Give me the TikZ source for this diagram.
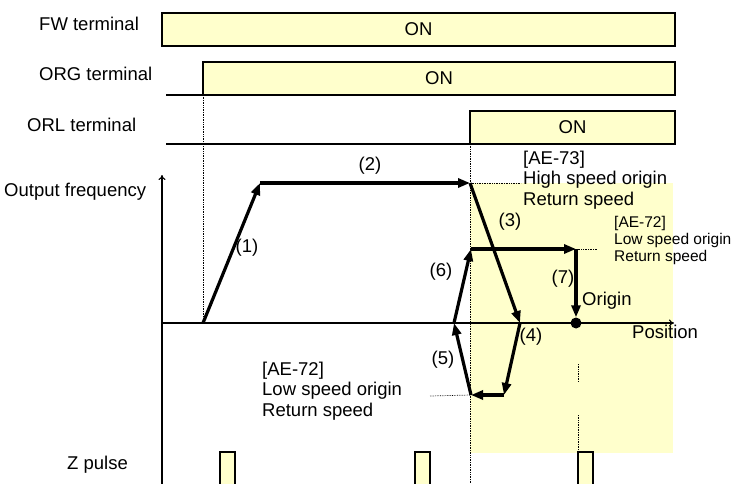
\documentclass[tikz,border=0pt]{standalone}
\usepackage{fontspec}
\setmainfont{Liberation Sans}
\usetikzlibrary{arrows.meta}
\definecolor{onyellow}{RGB}{255,255,204}

\begin{document}
\begin{tikzpicture}[x=1pt, y=-1pt,
    lbl/.style={font=\fontsize{18.5}{20}\selectfont, inner sep=0pt},
    note/.style={font=\fontsize{18.5}{20.5}\selectfont, inner sep=0pt, align=left},
    smallnote/.style={font=\fontsize{15.5}{17}\selectfont, inner sep=0pt, align=left},
    bar/.style={draw, line width=1.8pt, fill=onyellow, inner sep=0pt, outer sep=0pt,
        anchor=north west, font=\fontsize{18.5}{20}\selectfont},
    sig/.style={line width=1.8pt},
    move/.style={line width=3.2pt, -{Triangle[length=12pt,width=9pt]}},
    guide/.style={densely dotted, line width=0.7pt},
    freqaxis/.style={line width=1.1pt, -{To[length=5pt,width=7pt]}}]
    \useasboundingbox (0,0) rectangle (733,484);

    % shaded area after the ORL edge
    \fill[onyellow] (470,183) rectangle (673,453);

    % terminal signals
    \node[lbl, anchor=west] (fwlbl) at (39,24) {FW terminal};
    \node[lbl, anchor=west] (orglbl) at (39,74) {ORG terminal};
    \node[lbl, anchor=west] (orllbl) at (27,125) {ORL terminal};

    \node[bar, minimum width=513pt, minimum height=33pt] (fw) at (162,13) {ON};
    \node[bar, minimum width=472pt, minimum height=33pt] (org) at (203,62) {ON};
    \node[bar, minimum width=205pt, minimum height=33pt] (orl) at (470,111) {ON};

    \coordinate (orglow) at (166,95);
    \coordinate (orllow) at (166,144);
    \draw[sig] (orglow) -- (org.south west);
    \draw[sig] (orllow) -- (orl.south west);

    % axes
    \coordinate (fbot) at (162,484);
    \coordinate (ftop) at (162,175);
    \coordinate (xo) at (162,323);
    \coordinate (xend) at (674,323);
    \draw[freqaxis] (fbot) -- (ftop);
    \draw[freqaxis] (xo) -- (xend);
    \node[lbl, anchor=west] (freqlbl) at (4,192) {Output frequency};
    \node[lbl, anchor=west] (poslbl) at (632,332) {Position};

    % travel of the axis
    \coordinate (p0) at (203,323);
    \coordinate (p1) at (260,183);
    \coordinate (p2) at (470,183);
    \coordinate (p3) at (520,323);
    \coordinate (p4) at (504,395);
    \coordinate (p5) at (471,395);
    \coordinate (p6) at (454,323);
    \coordinate (p7) at (471,249);
    \coordinate (p8) at (576,249);
    \node[circle, fill, inner sep=0pt, minimum size=11pt] (origin) at (576,323) {};

    \coordinate (orgbot) at (470,484);
    \draw[guide] (org.south west) -- (p0);
    \draw[guide] (orl.south west) -- (orgbot);

    \draw[move] (p0) -- (p1);
    \draw[move] (p1) -- (p2);
    \draw[move] (p2) -- (p3);
    \draw[move] (p3) -- (p4);
    \draw[move] (p4) -- (p5);
    \draw[move] (p5) -- (p6);
    \draw[move] (p6) -- (p7);
    \draw[move] (p7) -- (p8);
    \draw[move] (p8) -- (origin.north);

    \node[lbl] (n1) at (247,248) {(1)};
    \node[lbl] (n2) at (370,166) {(2)};
    \node[lbl] (n3) at (510,222) {(3)};
    \node[lbl] (n4) at (531,337) {(4)};
    \node[lbl] (n5) at (443,360) {(5)};
    \node[lbl] (n6) at (441,272) {(6)};
    \node[lbl] (n7) at (563,279) {(7)};
    \node[lbl, anchor=west] (origlbl) at (582,301) {Origin};

    % speed settings (base = last line)
    \node[note, anchor=base west] (ae73) at (523,205) {[AE-73]\\High speed origin\\Return speed};
    \node[smallnote, anchor=base west] (ae72hi) at (614,261) {[AE-72]\\Low speed origin\\Return speed};
    \node[note, anchor=base west] (ae72lo) at (262,416) {[AE-72]\\Low speed origin\\Return speed};

    \coordinate (hilead) at (521,183);
    \coordinate (lolead) at (597,249);
    \coordinate (botlead) at (430,396);
    \draw[guide] (p2) -- (hilead);
    \draw[guide] (p8) -- (lolead);
    \draw[guide] (botlead) -- (p5);

    % origin mark down to the Z pulse
    \coordinate (zg1) at (578,364);
    \coordinate (zg2) at (578,382);
    \coordinate (zg3) at (578,415);
    \coordinate (zg4) at (578,452);
    \draw[guide] (zg1) -- (zg2);
    \draw[guide] (zg3) -- (zg4);

    % Z pulse
    \node[lbl, anchor=west] (zlbl) at (67,465) {Z pulse};
    \foreach \zx in {220,415,578}
        \draw[sig, fill=onyellow] (\zx,485) -- (\zx,452) -- (\zx+15,452) -- (\zx+15,485);
\end{tikzpicture}
\end{document}
